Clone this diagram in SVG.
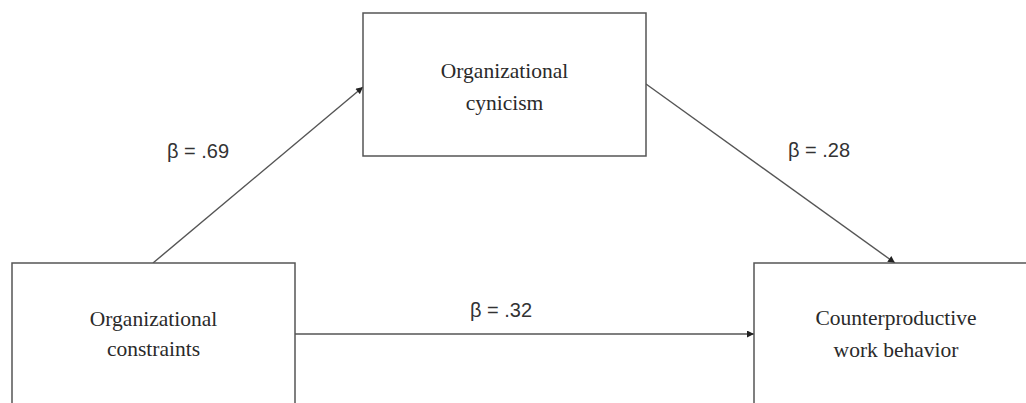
<svg xmlns="http://www.w3.org/2000/svg" width="1026" height="403" viewBox="0 0 1026 403">
<style>
.box{fill:#fff;stroke:#555;stroke-width:1.5}
.lbl{font-family:"Liberation Serif","Times New Roman",serif;font-size:21.5px;fill:#2a2a2a;text-anchor:middle}
.beta{font-family:"Liberation Sans",Arial,sans-serif;font-size:20px;fill:#333}
.conn{stroke:#555;stroke-width:1.4;fill:none;marker-end:url(#ah)}
</style>
<defs>
<marker id="ah" viewBox="0 0 10 10" refX="10" refY="5" markerWidth="8" markerHeight="7" markerUnits="userSpaceOnUse" orient="auto">
<path d="M0,0 L10,5 L0,10 z" fill="#222"/>
</marker>
</defs>
<rect width="1026" height="403" fill="#fff"/>
<g id="connectors">
<line class="conn" x1="153" y1="263" x2="363" y2="87"/>
<line class="conn" x1="646" y1="84" x2="895" y2="263"/>
<line class="conn" x1="295" y1="334" x2="754" y2="334"/>
</g>
<g id="node-cynicism">
<rect class="box" x="363" y="13" width="283" height="143"/>
<text class="lbl" x="504.5" y="78">Organizational</text>
<text class="lbl" x="504.5" y="110">cynicism</text>
</g>
<g id="node-constraints">
<rect class="box" x="12" y="263" width="283" height="160"/>
<text class="lbl" x="153.5" y="326">Organizational</text>
<text class="lbl" x="153.5" y="356">constraints</text>
</g>
<g id="node-cwb">
<rect class="box" x="754" y="263" width="290" height="160"/>
<text class="lbl" x="896" y="325">Counterproductive</text>
<text class="lbl" x="896" y="357">work behavior</text>
</g>
<g id="labels">
<text class="beta" x="167" y="158">β = .69</text>
<text class="beta" x="788" y="157">β = .28</text>
<text class="beta" x="470" y="317">β = .32</text>
</g>
</svg>
